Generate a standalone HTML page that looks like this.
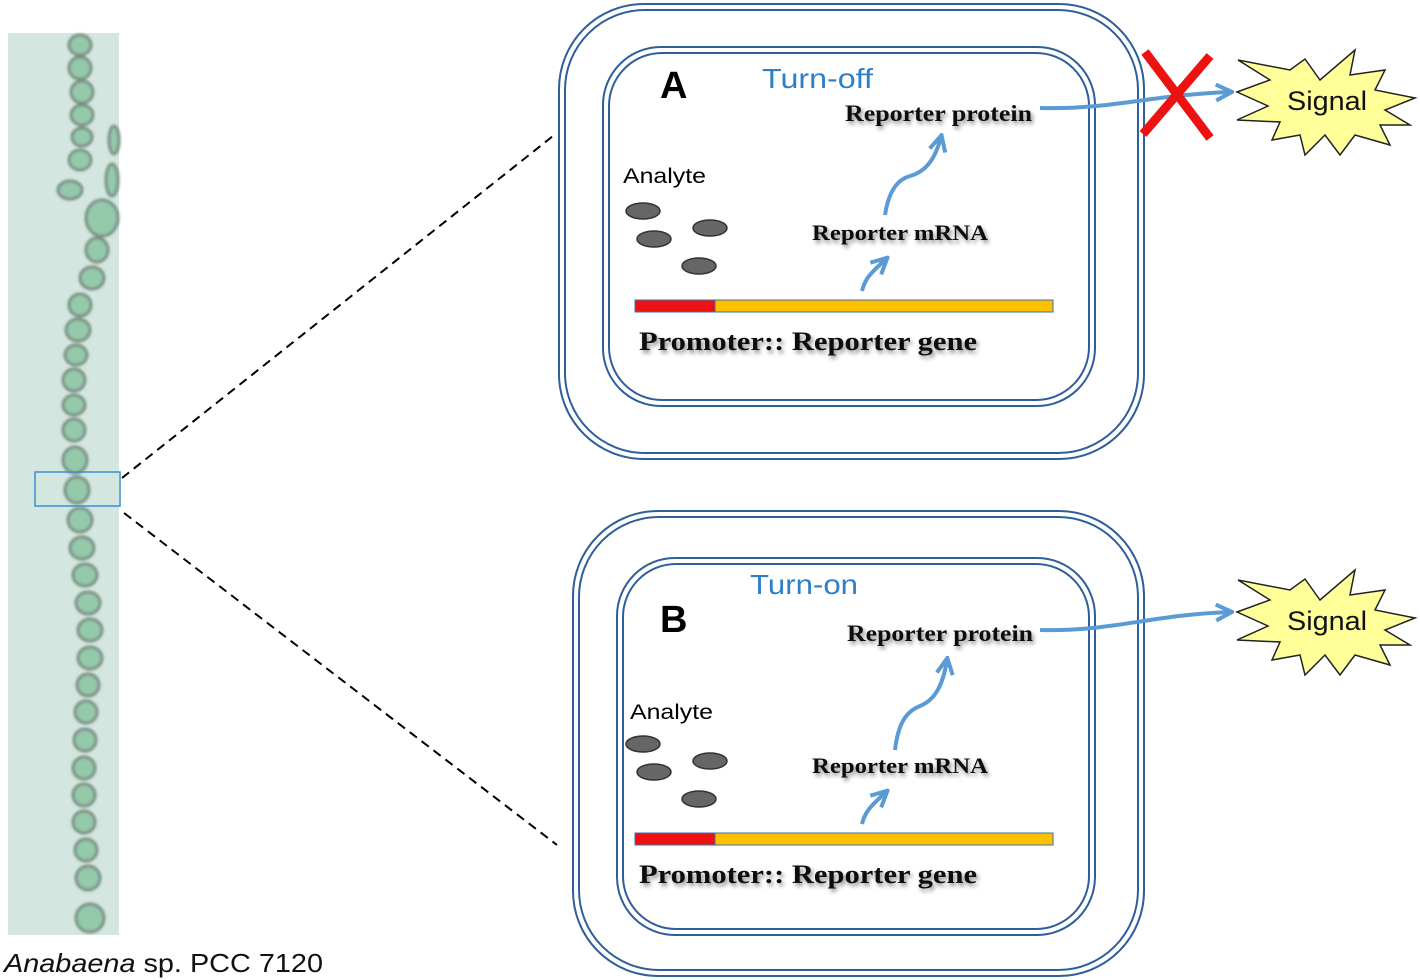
<!DOCTYPE html>
<html><head><meta charset="utf-8"><style>
body{margin:0;background:#fff;}
svg{display:block}
.t{font-family:"Liberation Sans",sans-serif;}
.sh{font-family:"Liberation Serif",serif;font-weight:bold;fill:#111;}
</style></head><body>
<svg width="1420" height="980" viewBox="0 0 1420 980" xmlns="http://www.w3.org/2000/svg">
<defs>
<filter id="ds" x="-10%" y="-30%" width="130%" height="180%"><feDropShadow dx="2" dy="3" stdDeviation="2" flood-color="#000" flood-opacity="0.45"/></filter>
<filter id="bl"><feGaussianBlur stdDeviation="1.2"/></filter>
<marker id="ar" viewBox="0 0 10 10" refX="8" refY="5" markerWidth="5" markerHeight="5" orient="auto"><path d="M1 1 L9 5 L1 9" fill="none" stroke="#5b9bd5" stroke-width="2"/></marker>
</defs>
<rect x="8" y="33" width="111" height="902" fill="#d3e7e0"/>
<g fill="#94c9aa" stroke="#7a8f84" stroke-width="3" filter="url(#bl)">
<ellipse cx="80" cy="45" rx="11" ry="10"/><ellipse cx="80" cy="68" rx="11" ry="11"/><ellipse cx="82" cy="92" rx="11" ry="11"/>
<ellipse cx="82" cy="115" rx="11" ry="10"/><ellipse cx="82" cy="137" rx="10" ry="9"/><ellipse cx="80" cy="160" rx="11" ry="10"/>
<ellipse cx="70" cy="190" rx="12" ry="9"/><ellipse cx="102" cy="218" rx="16" ry="18"/><ellipse cx="97" cy="250" rx="11" ry="12"/>
<ellipse cx="92" cy="278" rx="12" ry="11"/><ellipse cx="80" cy="305" rx="11" ry="11"/><ellipse cx="78" cy="330" rx="12" ry="11"/>
<ellipse cx="76" cy="355" rx="11" ry="10"/><ellipse cx="74" cy="380" rx="11" ry="11"/><ellipse cx="74" cy="405" rx="11" ry="10"/>
<ellipse cx="74" cy="430" rx="11" ry="11"/><ellipse cx="75" cy="460" rx="12" ry="13"/><ellipse cx="77" cy="490" rx="12" ry="13"/>
<ellipse cx="80" cy="520" rx="12" ry="12"/><ellipse cx="82" cy="548" rx="12" ry="11"/><ellipse cx="85" cy="575" rx="12" ry="11"/>
<ellipse cx="88" cy="603" rx="12" ry="11"/><ellipse cx="90" cy="630" rx="12" ry="11"/><ellipse cx="90" cy="658" rx="12" ry="11"/>
<ellipse cx="88" cy="685" rx="11" ry="11"/><ellipse cx="86" cy="712" rx="11" ry="11"/><ellipse cx="85" cy="740" rx="11" ry="11"/>
<ellipse cx="84" cy="768" rx="11" ry="11"/><ellipse cx="84" cy="795" rx="11" ry="11"/><ellipse cx="84" cy="822" rx="11" ry="11"/>
<ellipse cx="86" cy="850" rx="11" ry="11"/><ellipse cx="88" cy="878" rx="12" ry="12"/><ellipse cx="90" cy="918" rx="14" ry="14"/>
<ellipse cx="112" cy="180" rx="6" ry="16"/><ellipse cx="114" cy="140" rx="5" ry="14"/>
</g>
<rect x="35" y="472" width="85" height="34" fill="none" stroke="#3a8fd0" stroke-width="1.5"/>
<text x="4" y="972" class="t" font-size="26" fill="#111" textLength="319" lengthAdjust="spacingAndGlyphs"><tspan font-style="italic">Anabaena</tspan> sp. PCC 7120</text>
<line x1="122" y1="478" x2="553" y2="136" stroke="#000" stroke-width="2" stroke-dasharray="9,6"/>
<line x1="124" y1="513" x2="557" y2="845" stroke="#000" stroke-width="2" stroke-dasharray="9,6"/>
<g fill="none" stroke="#2e5f9a" stroke-width="2">
<rect x="559" y="4" width="585" height="455" rx="85"/>
<rect x="565" y="10" width="573" height="443" rx="80"/>
<rect x="603" y="47" width="492" height="359" rx="58"/>
<rect x="609" y="53" width="480" height="347" rx="53"/>
<rect x="573" y="511" width="571" height="465" rx="85"/>
<rect x="579" y="517" width="559" height="453" rx="80"/>
<rect x="617" y="558" width="478" height="377" rx="58"/>
<rect x="623" y="564" width="466" height="365" rx="53"/>
</g>
<text x="660" y="98" class="t" font-size="38" font-weight="bold" fill="#000">A</text>
<text x="762" y="88" class="t" font-size="28" fill="#2e7fc8" textLength="111" lengthAdjust="spacingAndGlyphs">Turn-off</text>
<text x="845" y="121" class="sh" font-size="23" filter="url(#ds)" textLength="187" lengthAdjust="spacingAndGlyphs">Reporter protein</text>
<text x="623" y="183" class="t" font-size="21" fill="#000" textLength="83" lengthAdjust="spacingAndGlyphs">Analyte</text>
<g fill="#666" stroke="#333" stroke-width="1.5">
<ellipse cx="643" cy="211" rx="17" ry="8"/><ellipse cx="654" cy="239" rx="17" ry="8"/><ellipse cx="710" cy="228" rx="17" ry="8"/><ellipse cx="699" cy="266" rx="17" ry="8"/>
</g>
<text x="812" y="240" class="sh" font-size="22" filter="url(#ds)" textLength="176" lengthAdjust="spacingAndGlyphs">Reporter mRNA</text>
<path d="M862 291 C865 278 872 272 886 259" fill="none" stroke="#5b9bd5" stroke-width="4" marker-end="url(#ar)"/>
<path d="M885 215 C888 195 895 180 910 176 C925 172 935 160 941 137" fill="none" stroke="#5b9bd5" stroke-width="4" marker-end="url(#ar)"/>
<rect x="635" y="300" width="80" height="12" fill="#ee1111" stroke="#3a6fb0" stroke-width="1"/>
<rect x="715" y="300" width="338" height="12" fill="#ffc000" stroke="#3a6fb0" stroke-width="1"/>
<text x="639" y="350" class="sh" font-size="26" filter="url(#ds)" textLength="338" lengthAdjust="spacingAndGlyphs">Promoter:: Reporter gene</text>
<path d="M1040 108 C1110 110 1150 95 1230 92" fill="none" stroke="#5b9bd5" stroke-width="4" marker-end="url(#ar)"/>
<g stroke="#ee1111" stroke-width="9"><line x1="1145" y1="52" x2="1210" y2="138"/><line x1="1210" y1="56" x2="1143" y2="134"/></g>
<text x="660" y="632" class="t" font-size="38" font-weight="bold" fill="#000">B</text>
<text x="750" y="594" class="t" font-size="28" fill="#2e7fc8" textLength="108" lengthAdjust="spacingAndGlyphs">Turn-on</text>
<text x="847" y="641" class="sh" font-size="23" filter="url(#ds)" textLength="186" lengthAdjust="spacingAndGlyphs">Reporter protein</text>
<text x="630" y="719" class="t" font-size="21" fill="#000" textLength="83" lengthAdjust="spacingAndGlyphs">Analyte</text>
<g fill="#666" stroke="#333" stroke-width="1.5">
<ellipse cx="643" cy="744" rx="17" ry="8"/><ellipse cx="654" cy="772" rx="17" ry="8"/><ellipse cx="710" cy="761" rx="17" ry="8"/><ellipse cx="699" cy="799" rx="17" ry="8"/>
</g>
<text x="812" y="773" class="sh" font-size="22" filter="url(#ds)" textLength="176" lengthAdjust="spacingAndGlyphs">Reporter mRNA</text>
<path d="M862 824 C865 811 872 805 886 792" fill="none" stroke="#5b9bd5" stroke-width="4" marker-end="url(#ar)"/>
<path d="M895 750 C898 725 905 712 920 706 C935 700 943 685 947 660" fill="none" stroke="#5b9bd5" stroke-width="4" marker-end="url(#ar)"/>
<rect x="635" y="833" width="80" height="12" fill="#ee1111" stroke="#3a6fb0" stroke-width="1"/>
<rect x="715" y="833" width="338" height="12" fill="#ffc000" stroke="#3a6fb0" stroke-width="1"/>
<text x="639" y="883" class="sh" font-size="26" filter="url(#ds)" textLength="338" lengthAdjust="spacingAndGlyphs">Promoter:: Reporter gene</text>
<path d="M1040 630 C1110 632 1150 615 1230 612" fill="none" stroke="#5b9bd5" stroke-width="4" marker-end="url(#ar)"/>
<g fill="#ffff99" stroke="#222" stroke-width="1.5">
<polygon points="1237,92 1270,80 1238,60 1290,70 1305,59 1320,80 1355,50 1350,75 1385,70 1375,90 1415,98 1385,110 1410,125 1380,125 1390,145 1355,135 1340,155 1325,135 1305,155 1300,135 1272,140 1280,122 1237,120 1268,106"/>
<polygon points="1237,612 1270,600 1238,580 1290,590 1305,579 1320,600 1355,570 1350,595 1385,590 1375,610 1415,618 1385,630 1410,645 1380,645 1390,665 1355,655 1340,675 1325,655 1305,675 1300,655 1272,660 1280,642 1237,640 1268,626"/>
</g>
<text x="1287" y="110" class="t" font-size="27" fill="#111" textLength="80" lengthAdjust="spacingAndGlyphs">Signal</text>
<text x="1287" y="630" class="t" font-size="27" fill="#111" textLength="80" lengthAdjust="spacingAndGlyphs">Signal</text>
</svg>
</body></html>
